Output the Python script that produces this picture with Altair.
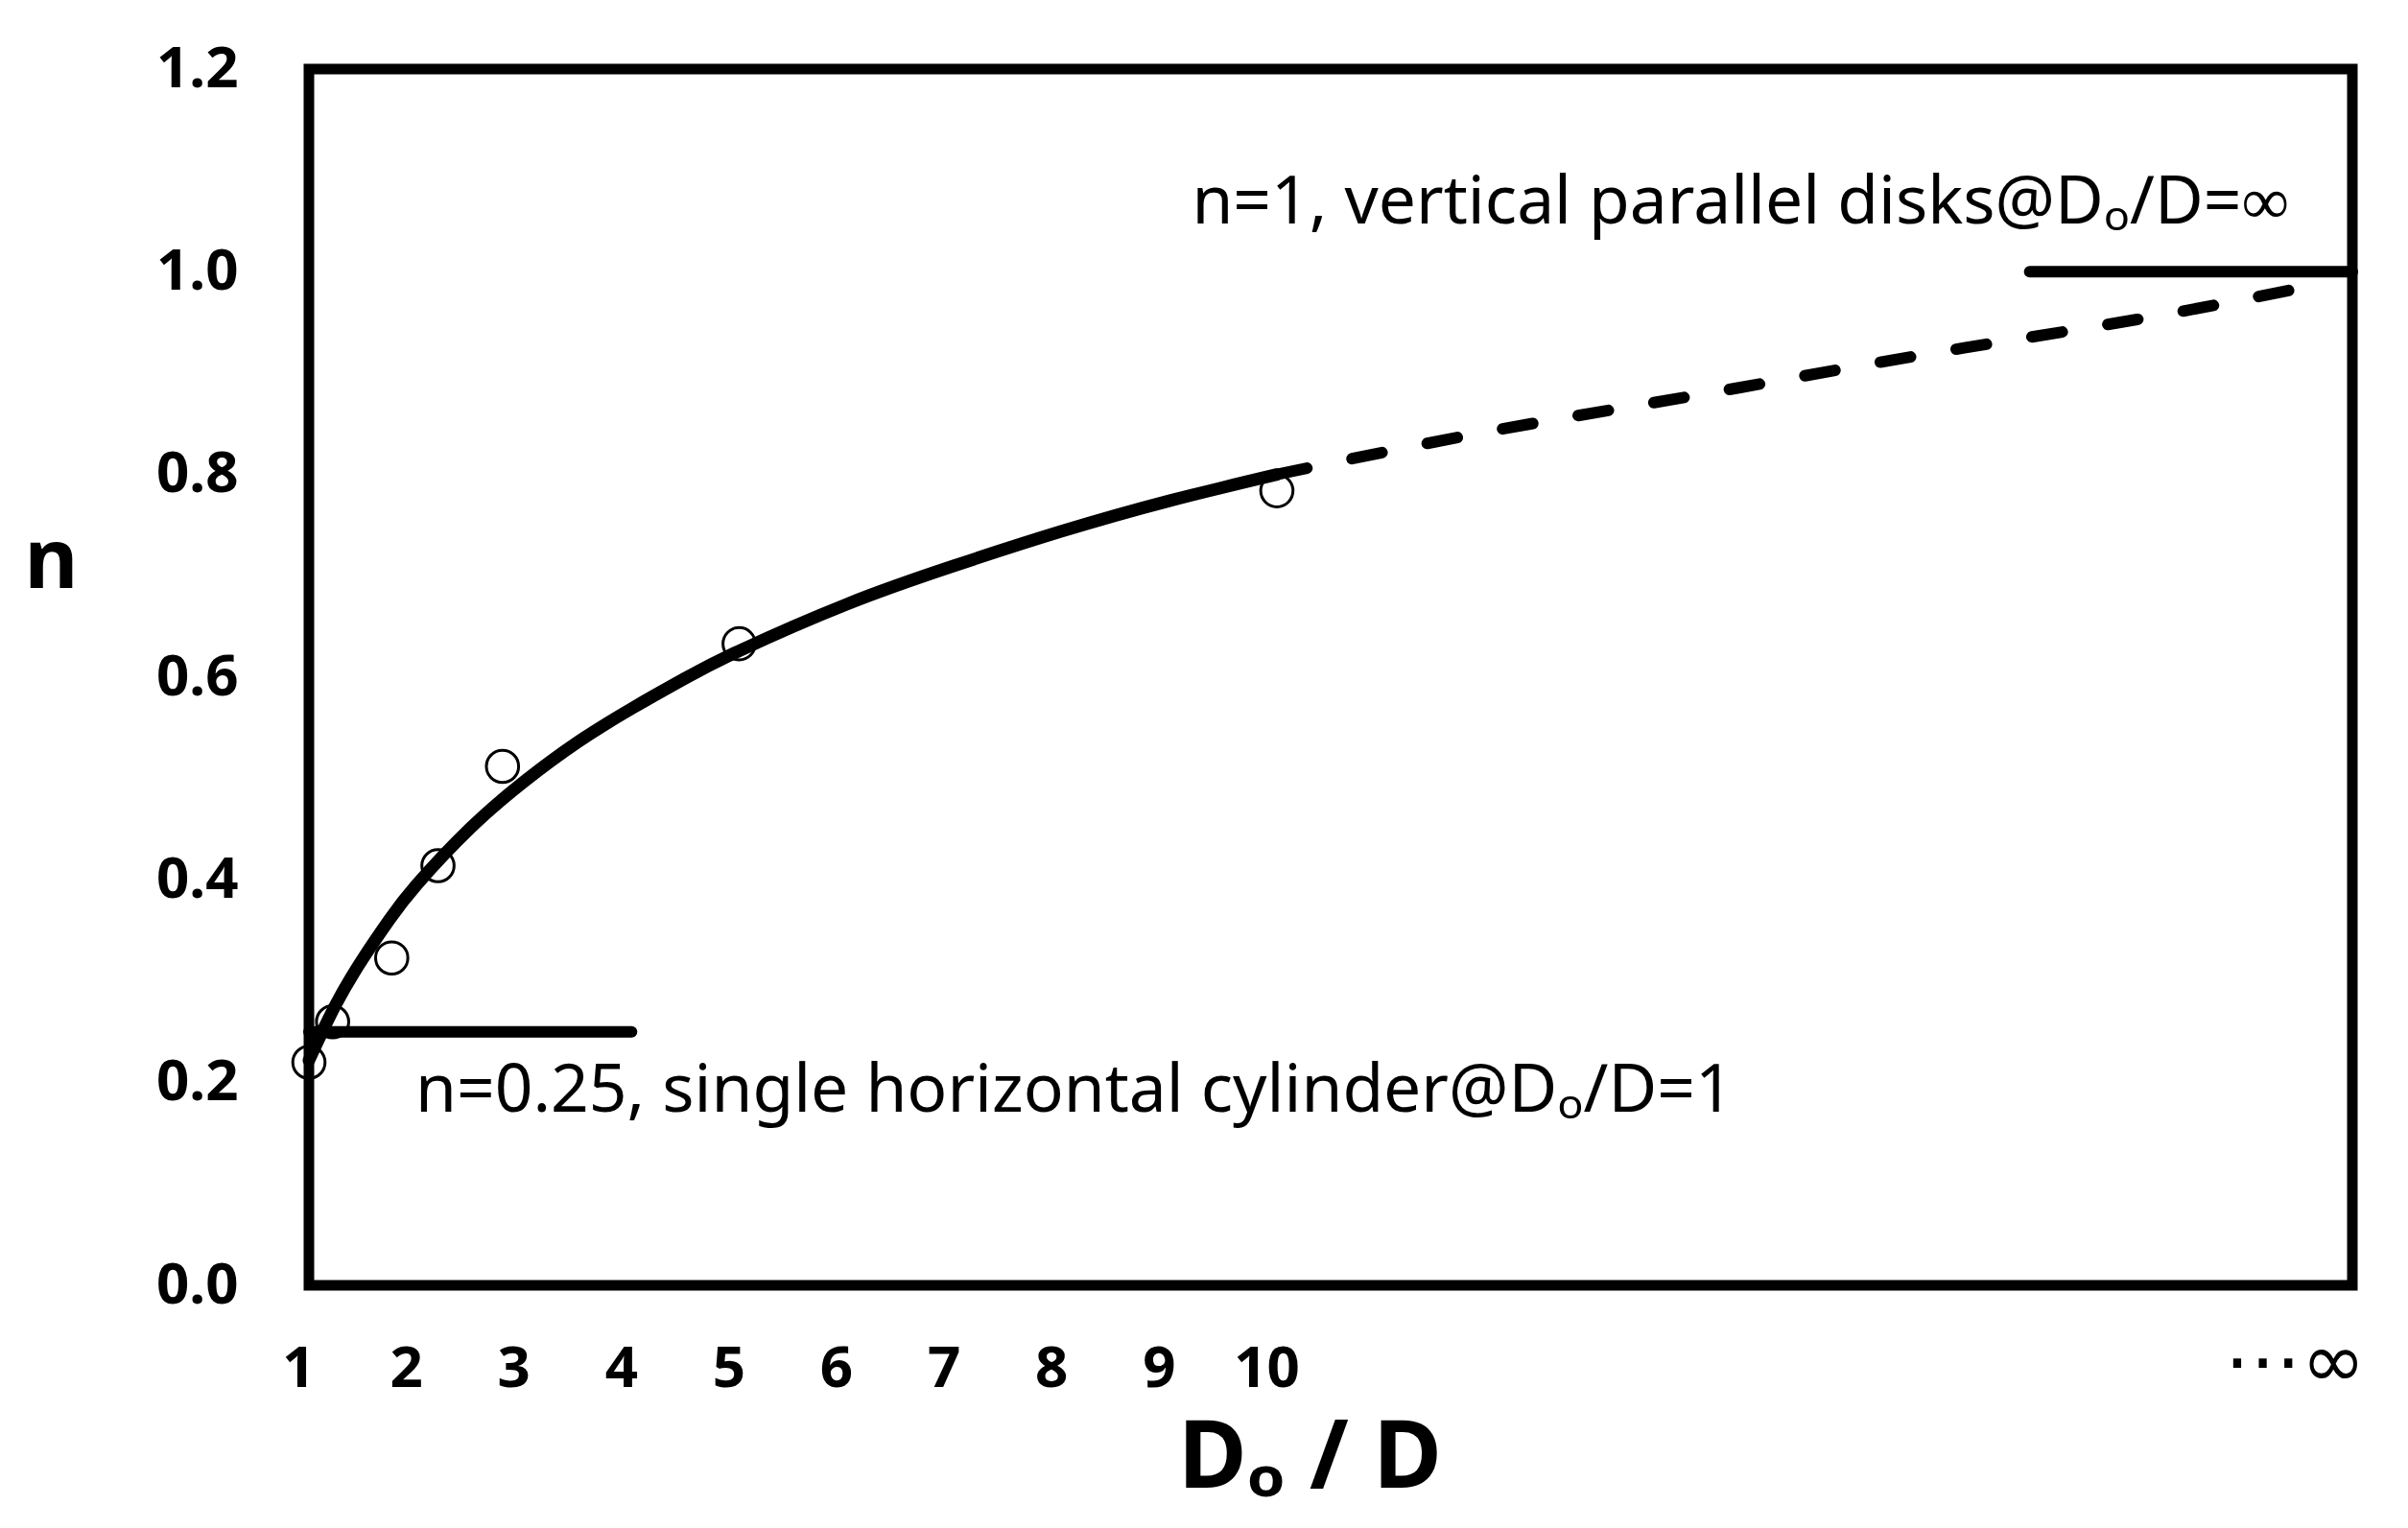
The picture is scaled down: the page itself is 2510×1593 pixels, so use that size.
import altair as alt
import pandas as pd

# measured data points (open circles)
pt_x = [1.0, 1.22, 1.77, 2.20, 2.80, 5.0, 10.0]
pt_n = [0.22, 0.26, 0.323, 0.414, 0.512, 0.633, 0.784]

# solid fitted curve
solid_x = [1, 1.25, 1.5, 1.75, 2, 2.5, 3, 3.5, 4, 4.5, 5, 6, 7, 8, 9, 10]
solid_n = [0.222, 0.277, 0.322, 0.361, 0.395, 0.451, 0.497, 0.536, 0.569,
           0.599, 0.626, 0.672, 0.71, 0.744, 0.774, 0.80]

# dashed extrapolation towards infinity
dash_x = [10, 12, 14, 16, 18, 19.8]
dash_n = [0.80, 0.843, 0.88, 0.918, 0.953, 0.99]

# limiting horizontal lines
lim_x1 = [1, 17]
lim_x2 = [4, 20]
lim_n = [0.25, 1.0]

# annotations
ann_text = ["n=0.25, single horizontal cylinder@Dₒ/D=1",
            "n=1, vertical parallel disks@Dₒ/D=∞"]
ann_x = [1.99, 9.21]
ann_n = [0.171, 1.048]

x_ticks = [1, 2, 3, 4, 5, 6, 7, 8, 9, 10, 19.56]
y_ticks = [0.0, 0.2, 0.4, 0.6, 0.8, 1.0, 1.2]

FONT = "Noto Sans"
INF_TEST = "datum.value > 15"

xscale = alt.Scale(domain=[1, 20], nice=False, zero=False)
yscale = alt.Scale(domain=[0, 1.2], nice=False, zero=True)

xaxis = alt.Axis(
    values=x_ticks,
    labelExpr="datum.value > 15 ? '⋯∞' : format(datum.value, 'd')",
    ticks=False, domain=False, grid=False,
    labelFont={"condition": {"test": INF_TEST, "value": "DejaVu Sans"}, "value": FONT},
    labelFontSize={"condition": {"test": INF_TEST, "value": 80}, "value": 60},
    labelFontWeight={"condition": {"test": INF_TEST, "value": "normal"}, "value": "bold"},
    labelColor="black",
    labelPadding=105, labelBaseline="alphabetic", labelOffset=-11,
    labelFlush=False, labelOverlap=False, labelBound=False,
    title="Dₒ / D", titleFont=FONT, titleFontSize=98, titleFontWeight="bold",
    titleColor="black", titleX=1043, titleY=210, titleAlign="center",
    titleBaseline="alphabetic", titleAnchor="start",
)
yaxis = alt.Axis(
    values=y_ticks, format=".1f",
    ticks=False, domain=False, grid=False,
    labelFont=FONT, labelFontSize=60, labelFontWeight="bold", labelColor="black",
    labelPadding=74, labelFlush=False, labelOverlap=False,
    title="n", titleFont=FONT, titleFontSize=86, titleFontWeight="bold",
    titleColor="black", titleAngle=0, titleX=-269, titleY=540,
    titleAlign="center", titleBaseline="alphabetic", titleAnchor="start",
)

solid_df = pd.DataFrame({"x": solid_x, "n": solid_n})
dash_df = pd.DataFrame({"x": dash_x, "n": dash_n})
pt_df = pd.DataFrame({"x": pt_x, "n": pt_n})
lim_df = pd.DataFrame({"x": lim_x1, "x2": lim_x2, "n": lim_n})
ann_df = pd.DataFrame({"x": ann_x, "n": ann_n, "t": ann_text})

solid = alt.Chart(solid_df).mark_line(
    color="black", strokeWidth=13, strokeCap="round", interpolate="natural"
).encode(
    x=alt.X("x:Q", scale=xscale, axis=xaxis),
    y=alt.Y("n:Q", scale=yscale, axis=yaxis),
)

dashed = alt.Chart(dash_df).mark_line(
    color="black", strokeWidth=12, strokeCap="round", strokeDash=[32, 48],
    interpolate="natural"
).encode(x=alt.X("x:Q", scale=xscale), y=alt.Y("n:Q", scale=yscale))

limits = alt.Chart(lim_df).mark_rule(
    color="black", strokeWidth=12, strokeCap="round"
).encode(x=alt.X("x:Q", scale=xscale), x2="x2:Q", y=alt.Y("n:Q", scale=yscale))

points = alt.Chart(pt_df).mark_point(
    shape="circle", size=1130, filled=False, color="black", strokeWidth=3, opacity=1
).encode(x=alt.X("x:Q", scale=xscale), y=alt.Y("n:Q", scale=yscale))

labels = alt.Chart(ann_df).mark_text(
    align="left", baseline="alphabetic", font=FONT, fontSize=69.5, color="black"
).encode(x=alt.X("x:Q", scale=xscale), y=alt.Y("n:Q", scale=yscale), text="t:N")

chart = alt.layer(solid, dashed, limits, points, labels).properties(
    width=2130, height=1268,
    autosize=alt.AutoSizeParams(type="none"),
    padding={"left": 314, "top": 64, "right": 40, "bottom": 245},
).configure_view(
    stroke="black", strokeWidth=11
)

chart.save("out.html", embed_options={"renderer": "svg", "actions": False})
